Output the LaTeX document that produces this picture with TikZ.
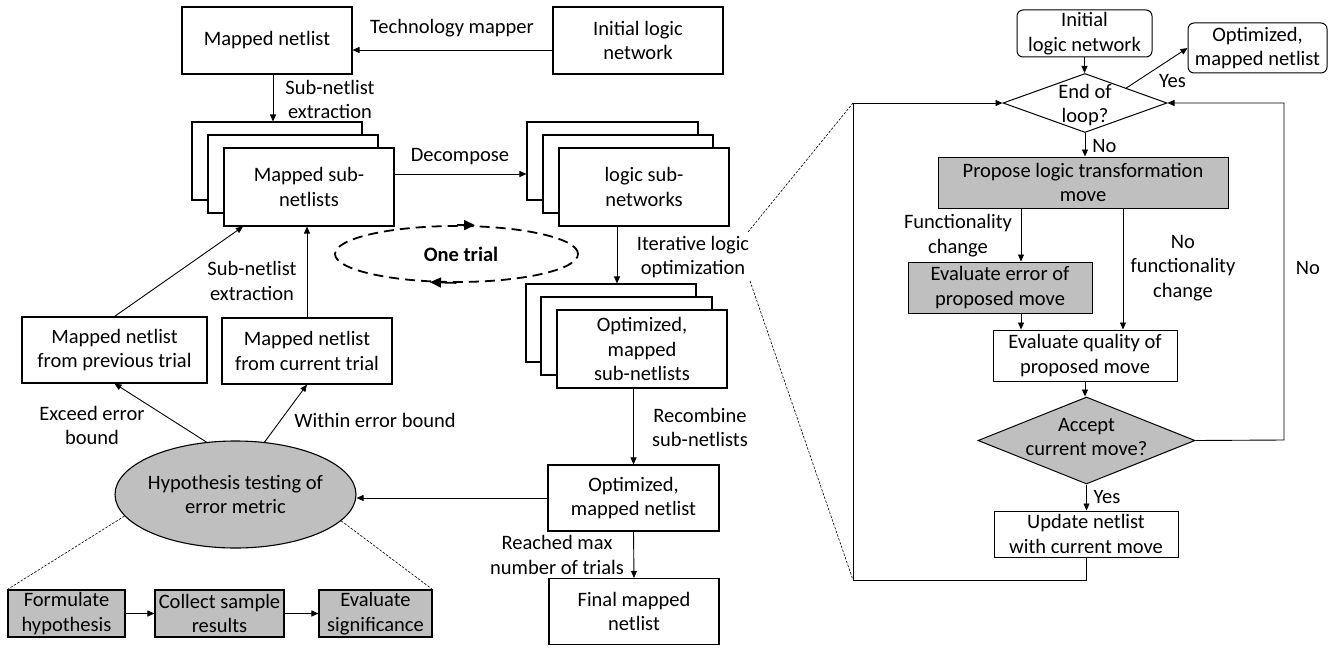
\documentclass[tikz,border=0pt]{standalone}
\usepackage{fontspec}
\setmainfont{Carlito}
\usetikzlibrary{arrows.meta,shapes.geometric,calc}
\definecolor{gfill}{RGB}{191,191,191}
\begin{document}
\begin{tikzpicture}[x=1pt,y=-1pt,
  every node/.style={font=\fontsize{20.5}{24.5}\selectfont, inner sep=0pt, align=center},
  sz/.style 2 args={minimum width=#1pt, minimum height=#2pt},
  box/.style={draw, line width=1.1pt, fill=white, rectangle},
  gbox/.style={box, fill=gfill},
  rbox/.style={box, rounded corners=6pt},
  arr/.style={-{Triangle[length=7pt,width=6pt]}, line width=0.9pt},
  tarr/.style={-{Triangle[length=11pt,width=10pt]}, line width=1.8pt},
  dots/.style={dash pattern=on 2.5pt off 1.5pt, line width=0.6pt}]
\useasboundingbox (0,0) rectangle (1337,650);

% ---------------- left part ----------------
\node[box, sz={170}{67}] (init) at (638,40.5) {Initial logic\\network};
\node[box, sz={170}{67}] (mnet) at (267,40.5) {Mapped netlist};

\node[box, sz={170}{78}] (ms3) at (277,161) {};
\node[box, sz={170}{78}] (ms2) at (293,174) {};
\node[box, sz={170}{78}] (ms1) at (309,187) {Mapped sub-\\netlists};

\node[box, sz={171}{78}] (ls3) at (612.5,161) {};
\node[box, sz={170}{78}] (ls2) at (628,174) {};
\node[box, sz={170}{78}] (ls1) at (644,187) {logic sub-\\networks};

\node[box, sz={170}{78}] (os3) at (611,323) {};
\node[box, sz={171}{78}] (os2) at (626.5,336) {};
\node[box, sz={170}{78}] (os1) at (642,349) {Optimized,\\mapped\\sub-netlists};

\node[box, sz={171}{66}] (opnet) at (633.5,498) {Optimized,\\mapped netlist};
\node[box, sz={170}{66}] (final) at (634,611.5) {Final mapped\\netlist};

\node[box, sz={185}{66}] (prev) at (114.5,350) {Mapped netlist\\from previous trial};
\node[box, sz={170}{66}] (curr) at (307,351) {Mapped netlist\\from current trial};

\node[ellipse, draw, line width=1.1pt, fill=gfill, sz={241}{107},
      label={[name=hyptext]center:Hypothesis testing of\\error metric}] (hyp) at (235.5,494.5) {};

\node[gbox, sz={117}{47}] (form) at (66.5,613.5) {Formulate\\hypothesis};
\node[gbox, sz={129}{47}] (coll) at (219.5,613.5) {Collect sample\\results};
\node[gbox, sz={113}{47}] (evs) at (375.5,613.5) {Evaluate\\significance};

% one trial loop
\node[ellipse, draw, line width=1.8pt, dash pattern=on 10pt off 6pt, sz={243}{56}] (trial) at (456.5,254) {};
\node[font=\fontsize{20.5}{24.5}\selectfont\bfseries] (trialtxt) at (461,254) {One trial};
\draw[tarr] (trial.north) -- ++(18.5,0);
\draw[tarr] (trial.south) -- ++(-26.5,-0.7);

% connectors left
\draw[arr] ([yshift=-9.5pt]init.west) -- ([yshift=-9.5pt]mnet.east);
\node (tmlbl) at (452,28) {Technology mapper};

\coordinate (a1) at ([xshift=6pt]mnet.south);
\draw[arr] (a1) -- (a1 |- ms3.north);
\node (selbl1) at (330,99.5) {Sub-netlist\\extraction};

\coordinate (d1) at ([yshift=13pt]ms1.east);
\draw[arr] (d1) -- (d1 -| ls3.west);
\node (declbl) at (460,157) {Decompose};

\coordinate (l1) at ([xshift=-27pt]ls1.south);
\draw[arr] (l1) -- (l1 |- os3.north);
\node (itlbl) at (693,257) {Iterative logic\\optimization};

\draw[arr] (os1.south -| opnet.north) -- (opnet.north);
\node (reclbl) at (700,427.5) {Recombine\\sub-netlists};

\draw[arr] (opnet.south) -- (final.north);
\node (maxlbl) at (557,555) {Reached max\\number of trials};

\draw[arr] (opnet.west) -- (opnet.west -| hyp.east);

\draw[arr] (hyp.119.5) -- (prev.south);
\draw[arr] (hyp.61) -- (curr.south);
\node (exlbl) at (92,425.5) {Exceed error\\bound};
\node (wilbl) at (375,420) {Within error bound};

\coordinate (pm) at ([xshift=-66pt]ms1.south);
\draw[arr] (prev.north) -- (pm);
\draw[arr] (curr.north) -- (curr.north |- ms1.south);
\node (selbl2) at (252,281) {Sub-netlist\\extraction};

\draw[arr] (form.east) -- (coll.west);
\draw[arr] (coll.east) -- (evs.west);
\draw[dots] (hyp.191.8) -- (form.north west);
\draw[dots] (hyp.346.7) -- (evs.north east);

% ---------------- right part ----------------
\node[rbox, line width=1pt, sz={135}{47}] (rinit) at (1084.5,33.5) {Initial\\logic network};
\node[rbox, line width=1pt, sz={139}{50}] (ropt) at (1257.5,48) {Optimized,\\mapped netlist};
\node[diamond, draw, line width=1pt, fill=white, sz={164}{59},
      label={[name=eoltxt, yshift=-2pt]center:End of\\loop?}] (eol) at (1085,103) {};
\node[gbox, line width=1pt, sz={290}{51}] (prop) at (1083,182.5) {Propose logic transformation\\move};
\node[gbox, line width=1pt, sz={184}{51}] (everr) at (1000,287.5) {Evaluate error of\\proposed move};
\node[box, line width=1pt, sz={184}{51}] (evq) at (1085,355.5) {Evaluate quality of\\proposed move};
\node[diamond, draw, line width=1pt, fill=gfill, sz={217}{87},
      label={[name=acctxt, yshift=3.5pt]center:Accept\\current move?}] (acc) at (1086.5,440.5) {};
\node[box, line width=1pt, sz={184}{46}] (upd) at (1086,534) {Update netlist\\with current move};

\draw[arr] (rinit.south) -- (rinit.south |- eol.north);
\draw[arr] (eol.north east) -- (ropt.west);
\node (yes1) at (1172.5,81) {Yes};
\draw[arr] (eol.south) -- (eol.south |- prop.north);
\node (no1) at (1104.5,146) {No};

\coordinate (fa) at ([xshift=-62pt]prop.south);
\draw[arr] (fa) -- (fa |- everr.north);
\node (fclbl) at (958,235.5) {Functionality\\change};
\coordinate (fb) at (fa |- everr.south);
\draw[arr] (fb) -- (fb |- evq.north);
\coordinate (nf) at ([xshift=40pt]prop.south);
\draw[arr] (nf) -- (nf |- evq.north);
\node (nfclbl) at (1183,268) {No\\functionality\\change};

\draw[arr] (evq.south) -- (evq.south |- acc.north);
\draw[arr] (acc.south) -- (acc.south |- upd.north);
\node (yes2) at (1107,497) {Yes};

\coordinate (lpTL) at (853,103);
\coordinate (lpBL) at (853,580);
\draw[arr] (upd.south) -- (upd.south |- lpBL) -- (lpBL) -- (lpTL) -- (eol.west);
\coordinate (lpR) at (1284,440);
\draw[arr] (acc.east) -- (lpR) |- (eol.east);
\node (no2) at (1308,268) {No};

% zoom lines
\coordinate (zt) at (748,232);
\coordinate (zb) at (750,281);
\draw[dots] (zt) -- (lpTL);
\draw[dots] (zb) -- (lpBL);
\end{tikzpicture}
\end{document}
